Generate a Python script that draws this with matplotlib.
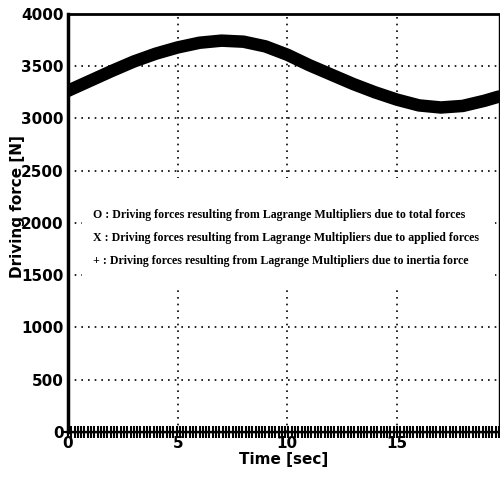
import matplotlib.pyplot as plt
import matplotlib.patches as mpatches
import numpy as np

# values
time = [0, 1, 2, 3, 4, 5, 6, 7, 8, 9, 10, 11, 12, 13, 14, 15, 16, 17, 18, 19, 19.65]
total_force = [3265, 3360, 3455, 3545, 3620, 3680, 3725, 3745, 3735, 3690, 3610,
               3510, 3420, 3330, 3250, 3180, 3125, 3105, 3120, 3170, 3210]

# inertia forces sit on zero over the whole run
time_inertia = np.arange(0, 19.7, 0.15)
inertia_force = np.zeros(len(time_inertia))

legend_lines = [
    "O : Driving forces resulting from Lagrange Multipliers due to total forces",
    "X : Driving forces resulting from Lagrange Multipliers due to applied forces",
    "+ : Driving forces resulting from Lagrange Multipliers due to inertia force",
]
legend_y = [2080, 1860, 1640]

fig = plt.figure(figsize=(5, 4.83), dpi=100)
ax = fig.add_axes([0.136, 0.106, 0.862, 0.865])

ax.plot(time, total_force, color='black', linewidth=9, solid_capstyle='round')
ax.plot(time_inertia, inertia_force, linestyle='none', marker='+', color='black',
        markersize=8, markeredgewidth=1.5, clip_on=False)

# white box behind the legend text hides the grid
ax.add_patch(mpatches.Rectangle((0.65, 1360), 18.8, 1070, facecolor='white',
                                edgecolor='none', zorder=1.8))

for txt, yy in zip(legend_lines, legend_y):
    ax.text(1.15, yy, txt, fontsize=8.6, fontweight='bold', family='Liberation Serif',
            va='center', ha='left', zorder=3)

ax.set_xlim(0, 19.65)
ax.set_ylim(0, 4000)
ax.set_xticks([0, 5, 10, 15])
ax.set_yticks(np.arange(0, 4001, 500))
ax.grid(True, color='black', linestyle=(0, (1, 3)), linewidth=1.2)
ax.tick_params(length=0, pad=3, labelsize=11)
for lbl in ax.get_xticklabels() + ax.get_yticklabels():
    lbl.set_fontweight('bold')

ax.spines['left'].set_linewidth(2.5)
ax.spines['top'].set_linewidth(2)
ax.spines['right'].set_linewidth(1)
ax.spines['bottom'].set_linewidth(1)

ax.set_xlabel("Time [sec]", fontsize=11, fontweight='bold', labelpad=1)
ax.set_ylabel("Driving force [N]", fontsize=11, fontweight='bold')
ax.yaxis.set_label_coords(-0.1, 0.54)

fig.savefig('out.png')
